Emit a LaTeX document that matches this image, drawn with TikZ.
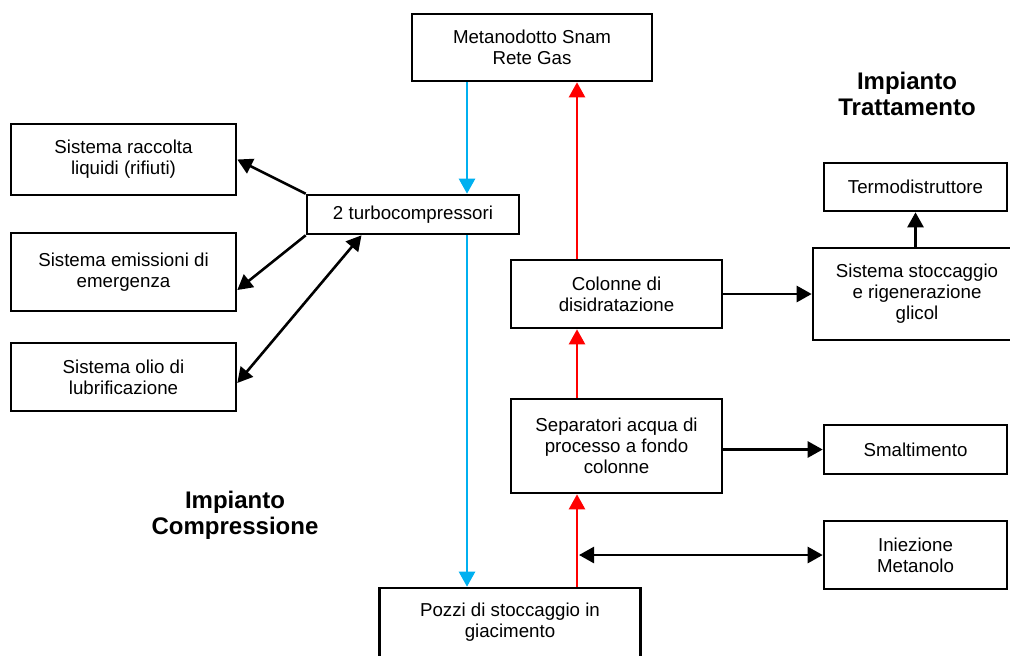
\documentclass[tikz,border=0pt]{standalone}
\usepackage{fontspec}
\setmainfont{Liberation Sans}
\usetikzlibrary{arrows.meta}
\definecolor{gasblu}{HTML}{00B0F0}
\tikzset{
>={Triangle[length=7.5pt,width=8pt]},
  impianto/.style={
    rectangle,
    draw=black, line width=1.3pt,
    align=center,
    inner sep=0pt,
    font=\fontsize{9.35}{10.5}\selectfont},
  titolo/.style={align=center, font=\fontsize{12}{13}\selectfont\bfseries},
  line/.style={draw, line width=1.3pt, ->},
  gas/.style={draw=gasblu, line width=1.2pt, ->},
  flusso/.style={draw=red, line width=1.2pt, ->},
}
\begin{document}
\begin{tikzpicture}[x=0.5pt, y=-0.5pt]
     \clip (0,0) rectangle (1010,655);
     \coordinate (asseblu) at (467,0);
     \coordinate (asse) at (577,0);
     % impianto compressione
     \node[impianto, minimum width=120pt, minimum height=33.5pt] (metanodotto) at (532,47.5) {Metanodotto Snam\\Rete Gas};
     \node[impianto, minimum width=106pt, minimum height=19.5pt] (turbo) at (413,214.5) {2 turbocompressori};
     \node[impianto, minimum width=112.5pt, minimum height=35.5pt] (raccolta) at (123.5,159.5) {Sistema raccolta\\liquidi (rifiuti)};
     \node[impianto, minimum width=112.5pt, minimum height=39pt] (emissioni) at (123.5,272) {Sistema emissioni di\\emergenza};
     \node[impianto, minimum width=112.5pt, minimum height=34pt] (olio) at (123.5,377) {Sistema olio di\\lubrificazione};
     \node[impianto, minimum width=130.5pt, minimum height=34.5pt] (pozzi) at (510,622.5) {Pozzi di stoccaggio in\\giacimento};
     % impianto trattamento
     \node[impianto, minimum width=105.5pt, minimum height=34pt] (colonne) at (616.5,294) {Colonne di\\disidratazione};
     \node[impianto, minimum width=105.5pt, minimum height=47pt] (separatori) at (616.5,446) {Separatori acqua di\\processo a fondo\\colonne};
     \node[impianto, minimum width=104pt, minimum height=46pt] (sistema) at (917,294) {Sistema stoccaggio\\e rigenerazione\\glicol};
     \node[impianto, minimum width=91.5pt, minimum height=24pt] (termo) at (915.5,187) {Termodistruttore};
     \node[impianto, minimum width=91.5pt, minimum height=24.5pt] (smaltimento) at (915.5,449.5) {Smaltimento};
     \node[impianto, minimum width=91.5pt, minimum height=34pt] (iniezione) at (915.5,555) {Iniezione\\Metanolo};
     \node[titolo] (trattamento) at (907,93.5) {Impianto\\Trattamento};
     \node[titolo] (compressione) at (235,515) {Impianto\\Compressione};
     % gas
     \draw[gas] (metanodotto.south -| asseblu) -- (turbo.north -| asseblu);
     \draw[gas] (turbo.south -| asseblu) -- (pozzi.north -| asseblu);
     \draw[flusso] (pozzi.north -| asse) -- (separatori.south -| asse);
     \draw[flusso] (separatori.north -| asse) -- (colonne.south -| asse);
     \draw[flusso] (colonne.north -| asse) -- (metanodotto.south -| asse);
     % servizi
     \draw[line] (turbo.north west) -- (raccolta.east);
     \draw[line] (turbo.south west) -- (emissioni.-9);
     \draw[line, <->] (turbo.202) -- (olio.-3);
     \draw[line] (colonne.east) -- (colonne.east -| sistema.west);
     \draw[line] (sistema.north -| termo.south) -- (termo.south);
     \draw[line] (smaltimento.west -| separatori.east) -- (smaltimento.west);
     \draw[line, <->, shorten <=1pt] (iniezione.west -| asse) -- (iniezione.west);
\end{tikzpicture}
\end{document}
